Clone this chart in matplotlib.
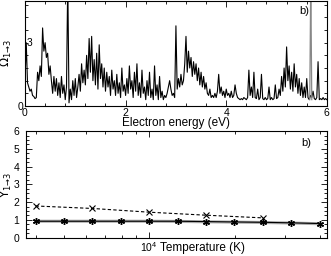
import numpy as np
import matplotlib
matplotlib.use('Agg')
import matplotlib.pyplot as plt
from matplotlib.ticker import MultipleLocator, NullFormatter, LogLocator

plt.rcParams['font.family'] = ['Liberation Sans', 'DejaVu Sans']
plt.rcParams['mathtext.fontset'] = 'dejavusans'

# top panel: collision strength vs electron energy (0.025 eV steps)
energy = np.linspace(0.0, 6.0, 241)
omega = [
    1.2, 3.0, 1.1, 0.9, 0.7, 0.8, 0.5, 0.45,
    0.35, 0.4, 1.6, 1.2, 1.9, 1.4, 3.7, 2.6,
    3.0, 2.3, 2.5, 1.5, 1.9, 1.2, 0.6, 1.4,
    0.7, 1.3, 0.5, 1.1, 0.4, 1.4, 0.6, 1.0,
    0.3, 0.9, 6.0, 0.15, 0.8, 0.3, 1.2, 0.5,
    1.3, 0.4, 0.9, 1.5, 0.7, 2.0, 1.1, 1.7,
    1.0, 2.4, 1.3, 3.2, 1.6, 3.3, 1.2, 2.2,
    1.0, 2.5, 0.8, 2.9, 1.3, 2.0, 0.9, 1.8,
    0.7, 1.6, 0.9, 1.4, 0.5, 1.7, 0.8, 1.2,
    0.5, 1.5, 0.6, 1.1, 0.4, 1.8, 0.7, 1.0,
    0.5, 1.3, 0.6, 1.9, 0.8, 1.2, 0.4, 1.6,
    0.7, 2.0, 0.5, 1.1, 0.4, 1.7, 0.6, 0.9,
    0.3, 1.2, 0.5, 1.6, 0.4, 0.8, 0.3, 1.9,
    0.5, 1.0, 0.3, 1.4, 0.4, 0.7, 0.3, 0.5,
    0.4, 0.6, 0.9, 1.2, 0.8, 0.5, 0.6, 0.4,
    3.8, 0.8, 1.3, 0.9, 1.5, 1.0, 1.2, 2.0,
    3.3, 1.6, 2.6, 1.8, 2.3, 1.4, 2.1, 1.5,
    2.0, 1.2, 1.8, 1.0, 1.6, 0.9, 1.4, 0.8,
    1.1, 0.6, 0.5, 0.8, 0.4, 0.5, 0.4, 0.6,
    0.4, 0.7, 1.5, 0.6, 0.9, 0.5, 0.7, 0.4,
    0.8, 0.5, 0.6, 0.4, 0.7, 0.4, 0.5, 1.0,
    0.6, 0.4, 0.35, 0.3, 0.35, 0.3, 0.4, 0.35,
    0.3, 0.4, 1.7, 0.5, 0.9, 0.4, 1.6, 0.4,
    0.35, 0.8, 0.3, 0.4, 1.5, 0.35, 0.3, 0.4,
    0.3, 0.35, 0.9, 0.3, 0.4, 0.3, 0.35, 1.0,
    0.35, 0.4, 0.8, 0.5, 1.4, 0.7, 1.8, 0.9,
    2.8, 1.2, 1.9, 0.8, 1.6, 0.7, 2.0, 0.9,
    1.5, 0.6, 1.3, 0.5, 1.1, 0.4, 0.9, 0.4,
    1.3, 0.4, 0.3, 0.5, 0.4, 0.7, 0.35, 0.3,
    0.4, 2.1, 0.3, 0.35, 0.3, 0.4, 0.3, 0.35,
    0.3,
]
grey_energy = [5.66, 5.68, 5.70]
grey_omega = [0.3, 6.0, 0.3]

# bottom panel: effective collision strength vs temperature
log_temp = [3.6, 3.7, 3.8, 3.9, 4.0, 4.1, 4.2, 4.3, 4.4, 4.5, 4.6]
upsilon_star = [0.92, 0.92, 0.92, 0.92, 0.92, 0.92, 0.90, 0.88, 0.86, 0.83, 0.79]
upsilon_grey = [0.92, 0.92, 0.92, 0.92, 0.92, 0.91, 0.89, 0.87, 0.85, 0.82, 0.78]
log_temp_x = [3.6, 3.8, 4.0, 4.2, 4.4]
upsilon_x = [1.78, 1.64, 1.43, 1.26, 1.11]

fig = plt.figure(figsize=(3.31, 2.56), dpi=100)
ax1 = fig.add_axes([0.0755, 0.586, 0.912, 0.412])
ax2 = fig.add_axes([0.0775, 0.072, 0.911, 0.416])

ax1.plot(energy, omega, color='black', lw=0.8)
ax1.plot(grey_energy, grey_omega, color='#888888', lw=0.9)
ax1.set_xlim(0, 6)
ax1.set_ylim(0, 5)
ax1.xaxis.set_major_locator(MultipleLocator(2))
ax1.xaxis.set_minor_locator(MultipleLocator(0.4))
ax1.yaxis.set_major_locator(MultipleLocator(3))
ax1.yaxis.set_minor_locator(MultipleLocator(0.6))
ax1.set_yticks([0])
ax1.text(0.005, 3, '3', transform=ax1.get_yaxis_transform(), fontsize=7.5,
         ha='left', va='center')
ax1.set_xlabel('Electron energy (eV)', fontsize=8.5, labelpad=-1)
ax1.set_ylabel(r'$\Omega_{1\!\rightarrow\!3}$', fontsize=8.5)
ax1.yaxis.set_label_coords(-0.036, 0.5)
ax1.text(0.91, 0.87, 'b)', transform=ax1.transAxes, fontsize=8)

T = [10 ** v for v in log_temp]
Tx = [10 ** v for v in log_temp_x]
ax2.plot(T, upsilon_grey, color='#aaaaaa', lw=2.2)
ax2.plot(T, upsilon_star, color='black', lw=0.8, marker=(6, 2, 0), ms=5, mew=1)
ax2.plot(Tx, upsilon_x, color='black', lw=0.8, ls='--', dashes=(3, 2),
         marker='x', ms=4, mew=0.8)
ax2.set_xscale('log')
ax2.set_xlim(10 ** 3.565, 10 ** 4.627)
ax2.set_ylim(0, 6)
ax2.xaxis.set_major_locator(LogLocator(base=10))
ax2.xaxis.set_minor_locator(LogLocator(base=10, subs=np.arange(2, 10)))
ax2.xaxis.set_minor_formatter(NullFormatter())
ax2.yaxis.set_major_locator(MultipleLocator(1))
ax2.yaxis.set_minor_locator(MultipleLocator(0.25))
ax2.set_xlabel('Temperature (K)', fontsize=8.5)
ax2.xaxis.set_label_coords(0.585, -0.04)
ax2.set_ylabel(r'$\Upsilon_{1\!\rightarrow\!3}$', fontsize=8.5)
ax2.yaxis.set_label_coords(-0.038, 0.5)
ax2.text(0.915, 0.86, 'b)', transform=ax2.transAxes, fontsize=8)

for ax in (ax1, ax2):
    ax.tick_params(which='both', direction='in', top=True, right=True,
                   labelsize=7.5, width=0.6)
    ax.tick_params(which='major', length=4)
    ax.tick_params(which='minor', length=2)
    for s in ax.spines.values():
        s.set_linewidth(0.8)
ax1.tick_params(axis='both', which='major', pad=1.5)
ax2.tick_params(axis='y', which='major', pad=4.5)
ax2.tick_params(axis='x', which='major', pad=2)

fig.savefig('out.png', dpi=100)
